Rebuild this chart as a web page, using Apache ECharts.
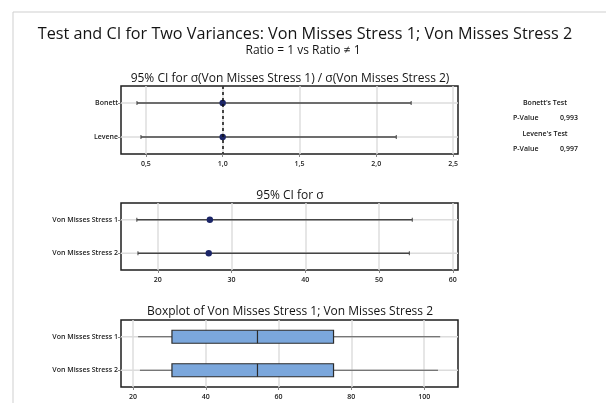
<!DOCTYPE html>
<html>
<head>
<meta charset="utf-8">
<script src="https://cdn.jsdelivr.net/npm/echarts@6/dist/echarts.min.js"></script>
<style>
  html, body { margin: 0; padding: 0; background: #fff; }
  #chart { width: 606px; height: 403px; }
</style>
</head>
<body>
<div id="chart"></div>
<script>
// ratio CI panel
const ratioCats = ['Bonett', 'Levene'];
const ratioLo = [0.442, 0.468];
const ratioEst = [1.0, 1.0];
const ratioHi = [2.227, 2.13];
const ratioTicks = [0.5, 1.0, 1.5, 2.0, 2.5];

// sigma CI panel
const sigmaCats = ['Von Misses Stress 1', 'Von Misses Stress 2'];
const sigmaLo = [17.15, 17.3];
const sigmaEst = [27.05, 26.9];
const sigmaHi = [54.5, 54.1];
const sigmaTicks = [20, 30, 40, 50, 60];

// boxplot panel: min, q1, median, q3, max
const boxMin = [21.4, 21.9];
const boxQ1 = [30.7, 30.7];
const boxMed = [54.2, 54.2];
const boxQ3 = [75.1, 75.1];
const boxMax = [104.4, 103.8];
const boxTicks = [20, 40, 60, 80, 100];

// test results
const pValues = [['Bonett\'s Test', '0,993'], ['Levene\'s Test', '0,997']];

const FONT = '"Open Sans", sans-serif';

function ciData(lo, est, hi) {
  return lo.map((l, i) => [i, l, est[i], hi[i]]);
}

function renderCI(params, api) {
  const cs = params.coordSys;
  const lo = api.coord([api.value(1), api.value(0)]);
  const est = api.coord([api.value(2), api.value(0)]);
  const hi = api.coord([api.value(3), api.value(0)]);
  const y = lo[1];
  return {
    type: 'group',
    children: [
      { type: 'line', shape: { x1: cs.x, y1: y, x2: cs.x + cs.width, y2: y }, style: { stroke: '#dcdcdc', lineWidth: 1.5 } },
      { type: 'line', shape: { x1: lo[0], y1: y, x2: hi[0], y2: y }, style: { stroke: '#454545', lineWidth: 1.5 } },
      { type: 'line', shape: { x1: lo[0], y1: y - 2, x2: lo[0], y2: y + 2 }, style: { stroke: '#454545', lineWidth: 1 } },
      { type: 'line', shape: { x1: hi[0], y1: y - 2, x2: hi[0], y2: y + 2 }, style: { stroke: '#454545', lineWidth: 1 } },
      { type: 'circle', shape: { cx: est[0], cy: y, r: 3.2 }, style: { fill: '#1b2567' } }
    ]
  };
}

function renderBox(params, api) {
  const cs = params.coordSys;
  const cat = api.value(0);
  const mn = api.coord([api.value(1), cat]);
  const q1 = api.coord([api.value(2), cat]);
  const md = api.coord([api.value(3), cat]);
  const q3 = api.coord([api.value(4), cat]);
  const mx = api.coord([api.value(5), cat]);
  const y = mn[1];
  const h = 13;
  return {
    type: 'group',
    children: [
      { type: 'line', shape: { x1: cs.x, y1: y, x2: cs.x + cs.width, y2: y }, style: { stroke: '#dcdcdc', lineWidth: 1.5 } },
      { type: 'line', shape: { x1: mn[0], y1: y, x2: q1[0], y2: y }, style: { stroke: '#555', lineWidth: 1.2 } },
      { type: 'line', shape: { x1: q3[0], y1: y, x2: mx[0], y2: y }, style: { stroke: '#555', lineWidth: 1.2 } },
      { type: 'rect', shape: { x: q1[0], y: y - h / 2, width: q3[0] - q1[0], height: h }, style: { fill: '#7ba7dc', stroke: '#2b2b2b', lineWidth: 1.2 } },
      { type: 'line', shape: { x1: md[0], y1: y - h / 2, x2: md[0], y2: y + h / 2 }, style: { stroke: '#2b2b2b', lineWidth: 1.2 } }
    ]
  };
}

const gridBase = { left: 121, width: 337, show: true, borderColor: '#1e1e1e', borderWidth: 1.5, backgroundColor: '#fff' };

function xAxisFor(idx, min, max, ticks, fmt) {
  return {
    gridIndex: idx, type: 'value', min: min, max: max,
    axisLine: { show: false },
    axisTick: { show: true, length: 3, lineStyle: { color: '#888' }, customValues: ticks },
    axisLabel: { customValues: ticks, formatter: fmt, fontSize: 7, color: '#1a1a1a', fontFamily: FONT, margin: 6, fontWeight: 600 },
    splitLine: { show: true, lineStyle: { color: '#dedede', width: 1.5 } }
  };
}

function yAxisFor(idx, cats) {
  return {
    gridIndex: idx, type: 'category', data: cats, inverse: true,
    axisLine: { show: false },
    axisTick: { show: true, length: 3, alignWithLabel: true, lineStyle: { color: '#888' } },
    axisLabel: { fontSize: 7, color: '#1a1a1a', fontFamily: FONT, margin: 3, fontWeight: 600 },
    splitLine: { show: false }
  };
}

const txt = (x, y, text, size, align, weight) => ({
  type: 'text', x: x, y: y,
  style: { text: text, fontSize: size, fontFamily: FONT, fill: '#141414', align: align || 'center', verticalAlign: 'middle', fontWeight: weight || 'normal' }
});

const graphics = [
  { type: 'rect', shape: { x: 13, y: 12, width: 700, height: 500 }, style: { fill: 'none', stroke: '#cfcfcf', lineWidth: 1 }, z: -10 },
  txt(305, 34, 'Test and CI for Two Variances: Von Misses Stress 1; Von Misses Stress 2', 16.2),
  txt(303, 51, 'Ratio = 1 vs Ratio \u2260 1', 12),
  txt(290, 79, '95% CI for \u03c3(Von Misses Stress 1) / \u03c3(Von Misses Stress 2)', 12),
  txt(290, 196, '95% CI for \u03c3', 12),
  txt(290, 312, 'Boxplot of Von Misses Stress 1; Von Misses Stress 2', 12)
];
pValues.forEach((p, i) => {
  const y0 = 103 + i * 31;
  graphics.push(txt(545, y0, p[0], 7, 'center', 600));
  graphics.push(txt(513, y0 + 15, 'P-Value', 7, 'left', 600));
  graphics.push(txt(578, y0 + 15, p[1], 7, 'right', 600));
});

const chart = echarts.init(document.getElementById('chart'));
chart.setOption({
  animation: false,
  backgroundColor: '#fff',
  graphic: graphics,
  grid: [
    Object.assign({ top: 86, height: 68 }, gridBase),
    Object.assign({ top: 203, height: 67 }, gridBase),
    Object.assign({ top: 320, height: 67 }, gridBase)
  ],
  xAxis: [
    xAxisFor(0, 0.338, 2.532, ratioTicks, v => v.toFixed(1).replace('.', ',')),
    xAxisFor(1, 15, 60.7, sigmaTicks, v => String(v)),
    xAxisFor(2, 16.7, 109.3, boxTicks, v => String(v))
  ],
  yAxis: [
    yAxisFor(0, ratioCats),
    yAxisFor(1, sigmaCats),
    yAxisFor(2, sigmaCats)
  ],
  series: [
    {
      type: 'custom', xAxisIndex: 0, yAxisIndex: 0,
      renderItem: renderCI,
      encode: { x: [1, 2, 3], y: 0 },
      data: ciData(ratioLo, ratioEst, ratioHi),
      markLine: {
        silent: true, symbol: 'none', label: { show: false },
        lineStyle: { color: '#111', type: [3, 3], width: 1.5 },
        data: [{ xAxis: 1 }]
      }
    },
    {
      type: 'custom', xAxisIndex: 1, yAxisIndex: 1,
      renderItem: renderCI,
      encode: { x: [1, 2, 3], y: 0 },
      data: ciData(sigmaLo, sigmaEst, sigmaHi)
    },
    {
      type: 'custom', xAxisIndex: 2, yAxisIndex: 2,
      renderItem: renderBox,
      encode: { x: [1, 2, 3, 4, 5], y: 0 },
      data: boxMin.map((m, i) => [i, m, boxQ1[i], boxMed[i], boxQ3[i], boxMax[i]])
    }
  ]
});
</script>
</body>
</html>
